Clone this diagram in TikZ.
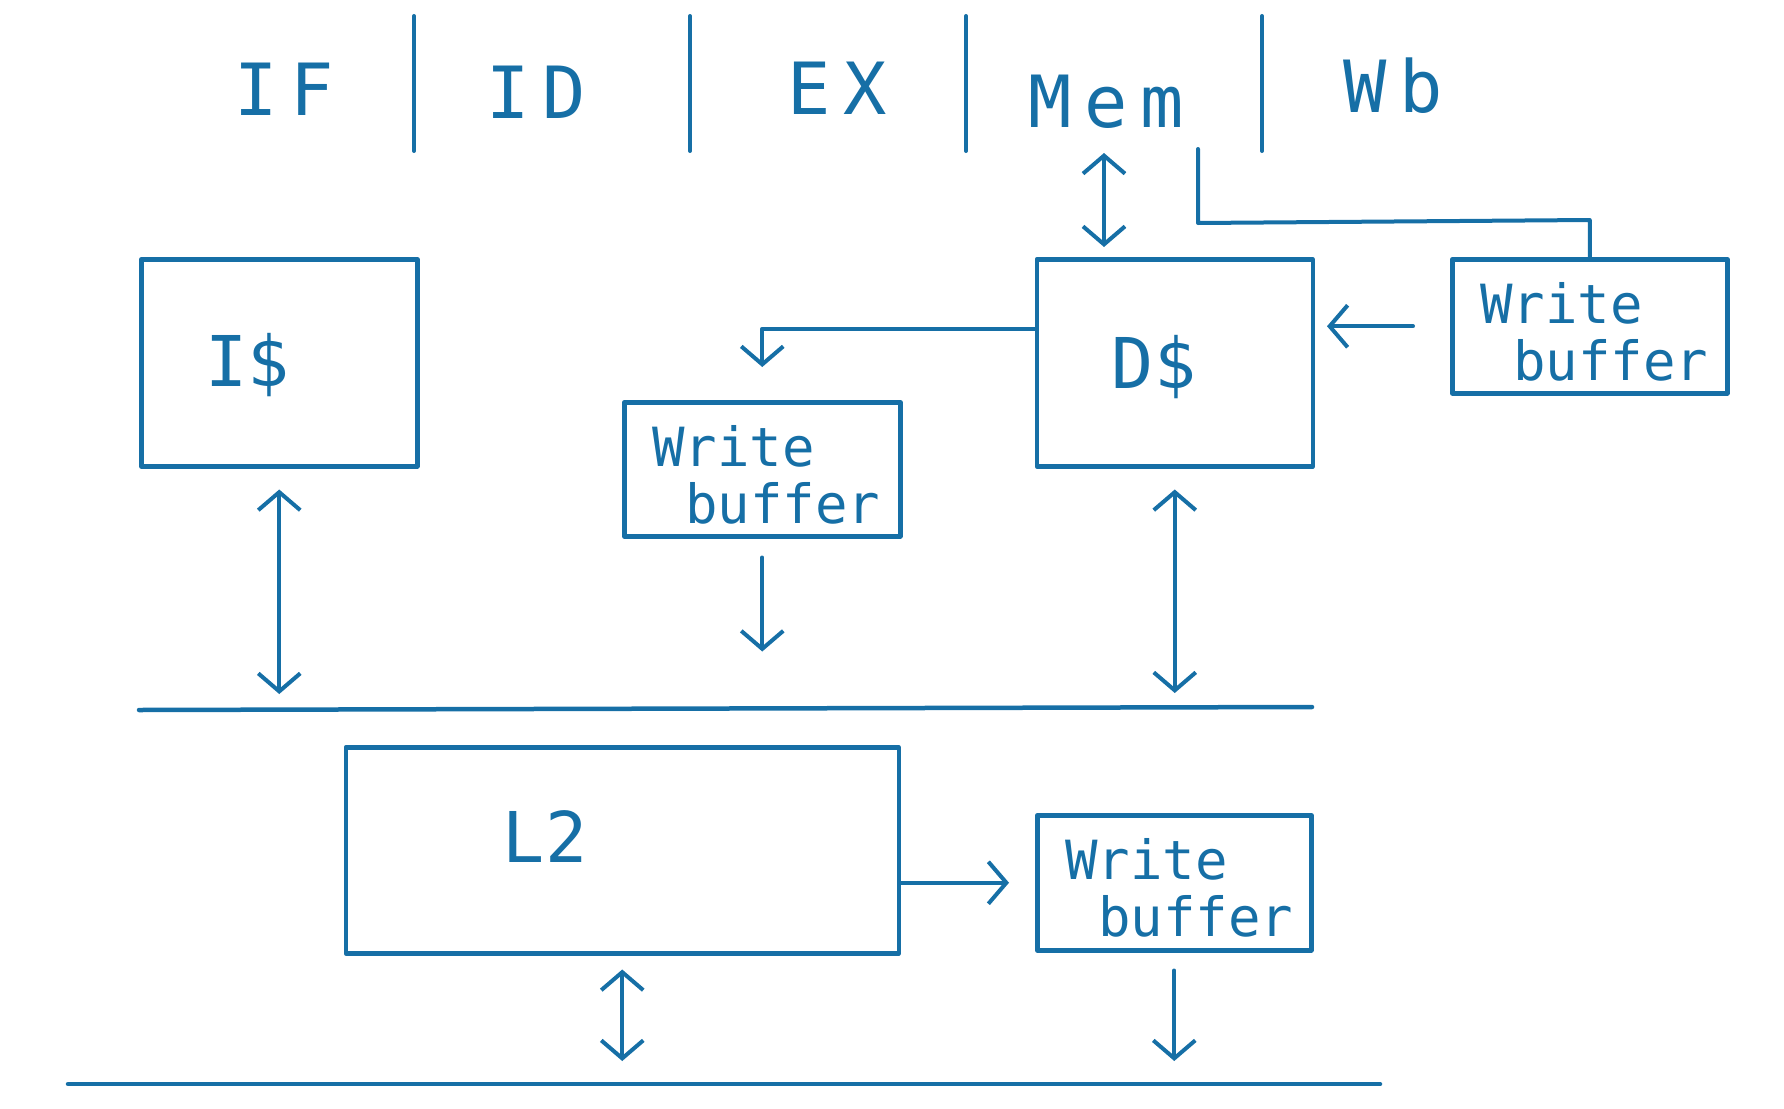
\documentclass[tikz,border=0pt]{standalone}
\usepackage{fontspec}
\newfontfamily\handwide[LetterSpace=18]{DejaVu Sans Mono}
\newfontfamily\hand{DejaVu Sans Mono}
\usetikzlibrary{arrows.meta}
\definecolor{ink}{RGB}{22,111,166}
\begin{document}
\begin{tikzpicture}[x=1pt,y=-1pt, line cap=round, line join=round,
  box/.style={draw=ink, line width=4.5pt, inner sep=0pt, anchor=north west},
  conn/.style={draw=ink, line width=4pt},
  tip/.style={-{Straight Barb[length=18pt,width=42pt]}},
  dtip/.style={{Straight Barb[length=18pt,width=42pt]}-{Straight Barb[length=18pt,width=42pt]}},
  stage/.style={text=ink, font=\handwide\fontsize{72}{78}\selectfont, inner sep=0pt, anchor=base},
  lbl/.style={text=ink, font=\hand\fontsize{70}{76}\selectfont, inner sep=0pt, anchor=base},
  wbl/.style={text=ink, font=\hand\fontsize{54}{60}\selectfont, inner sep=0pt, anchor=base west}
]
\useasboundingbox (0,0) rectangle (1784,1108);

% stage labels and separators
\node[stage] (tIF)  at (284,115) {IF};
\node[stage] (tID)  at (536,118) {ID};
\node[stage] (tEX)  at (837,114) {EX};
\node[stage] (tMem) at (1106,127) {Mem};
\node[stage] (tWb)  at (1393,112) {Wb};
\coordinate (s1a) at (414,16);  \coordinate (s1b) at (414,151);
\coordinate (s2a) at (690,16);  \coordinate (s2b) at (690,151);
\coordinate (s3a) at (966,16);  \coordinate (s3b) at (966,151);
\coordinate (s4a) at (1262,16); \coordinate (s4b) at (1262,151);
\draw[conn] (s1a) -- (s1b);
\draw[conn] (s2a) -- (s2b);
\draw[conn] (s3a) -- (s3b);
\draw[conn] (s4a) -- (s4b);

% boxes
\node[box, minimum width=276pt, minimum height=207pt] (icache) at (139,257) {};
\node[box, minimum width=276pt, minimum height=207pt] (dcache) at (1034.5,257) {};
\node[box, minimum width=275pt, minimum height=134pt] (wbR) at (1450,257) {};
\node[box, minimum width=276pt, minimum height=134pt] (wbM) at (622,400) {};
\node[box, minimum width=553pt, minimum height=206pt] (l2) at (343.5,745) {};
\node[box, minimum width=274pt, minimum height=135pt] (wbB) at (1035,813) {};

% box labels
\node[lbl] (tI) at (248,386) {I\$};
\node[lbl] (tD) at (1154,388) {D\$};
\node[lbl] (tL2) at (545,862) {L2};
\foreach \b in {wbR,wbM,wbB}{
  \node[wbl] (\b a) at ([xshift=30pt,yshift=-66pt]\b.north west) {Write};
  \node[wbl] (\b b) at ([xshift=63pt,yshift=-123pt]\b.north west) {buffer};
}

% buses
\coordinate (busL) at (139,710);
\coordinate (busR) at (1312,707);
\coordinate (bus2L) at (68,1084);
\coordinate (bus2R) at (1380,1084);
\draw[conn, line width=4.5pt] (busL) -- (busR);
\draw[conn, line width=4.5pt] (bus2L) -- (bus2R);

% Mem <-> D$
\coordinate (memtop) at (1104,153);
\coordinate (membot) at (1104,247);
\draw[conn, dtip] (memtop) -- (membot);

% Wb feedback line
\coordinate (wbtap) at (1198,149);
\draw[conn] (wbtap) -- (1198,223) -- (wbR.north |- 0,220) -- (wbR.north);

% write buffer -> D$
\draw[conn, tip] ([xshift=-37pt]wbR.west) -- ([xshift=12pt]dcache.east |- wbR.west);

% D$ -> write buffer (middle)
\draw[conn, tip] ([yshift=34pt]dcache.west) -| ([yshift=33pt]wbM.north);
\draw[conn, tip] ([yshift=-19pt]wbM.south) -- ++(0,94);

% caches <-> bus
\draw[conn, dtip] ([yshift=-21pt]icache.south) -- ([yshift=16pt]icache.south |- busL);
\draw[conn, dtip] ([yshift=-21pt]dcache.south) -- ([yshift=14pt]dcache.south |- busR);

% L2 -> write buffer (bottom)
\draw[conn, tip] (l2.east |- wbB.west) -- ([xshift=-26pt]wbB.west);
\draw[conn, dtip] ([yshift=-14pt]l2.south) -- ([yshift=23pt]l2.south |- bus2L);
\draw[conn, tip] ([yshift=-18pt]wbB.south) -- ([yshift=23pt]wbB.south |- bus2L);
\end{tikzpicture}
\end{document}
